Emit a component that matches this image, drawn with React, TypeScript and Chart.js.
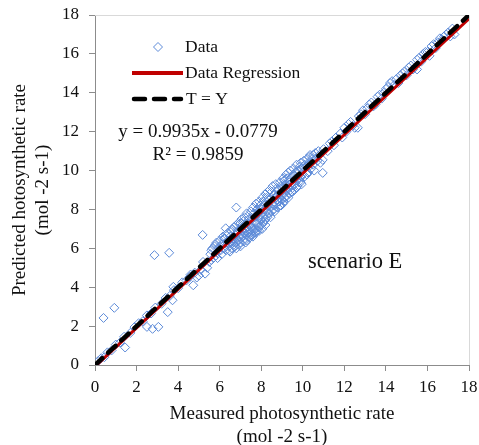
import React, { useEffect, useRef } from 'react';
import { Chart, registerables } from 'chart.js';

Chart.register(...registerables);

// ---- data (measured, predicted) ----
const lowLinePoints: [number, number][] = [
  [0.15, 0.2], [0.3, 0.35], [0.45, 0.4], [0.6, 0.65], [0.8, 0.75], [1.0, 1.05], [1.2, 1.15], [1.4, 1.45],
  [1.7, 1.65], [1.9, 1.95], [2.1, 2.15], [2.3, 2.25], [2.5, 2.55], [2.7, 2.65], [2.9, 2.95], [3.2, 3.15],
  [3.4, 3.45], [3.6, 3.55], [3.8, 3.85], [4.0, 3.95], [4.2, 4.25], [4.4, 4.35], [4.6, 4.65], [4.8, 4.75],
];
const lowOutliers: [number, number][] = [
  [0.41, 2.42], [0.93, 2.94], [1.45, 0.9], [2.5, 1.96], [2.77, 1.86], [3.05, 1.96], [3.5, 2.72], [3.73, 3.33],
  [3.77, 4.02], [2.86, 5.65], [3.57, 5.77], [4.57, 4.54], [4.73, 4.1], [4.9, 4.5], [5.0, 4.6], [5.1, 4.9],
  [5.3, 4.7], [5.2, 5.3], [5.4, 5.0], [5.18, 6.69],
];
const clusterPoints: [number, number][] = [
  [5.5, 5.3], [5.55, 5.7], [5.6, 5.9], [5.7, 5.5], [5.75, 6.1], [5.8, 5.6], [5.85, 6.3], [5.9, 5.8], [5.95, 6.0], [6.0, 6.4],
  [6.05, 5.9], [6.1, 6.2], [6.15, 6.6], [6.2, 6.0], [6.25, 6.5], [6.29, 7.03], [6.3, 5.9], [6.35, 6.3], [6.4, 6.8], [6.45, 6.1],
  [6.5, 5.83], [6.5, 6.6], [6.55, 6.3], [6.6, 7.0], [6.6, 6.0], [6.65, 6.5], [6.7, 6.2], [6.7, 7.1], [6.75, 6.7], [6.8, 8.1],
  [6.8, 6.3], [6.85, 6.9], [6.9, 6.4], [6.9, 7.3], [6.95, 6.6], [7.0, 7.0], [7.0, 6.3], [7.05, 7.5], [7.1, 6.6], [7.1, 7.2],
  [7.15, 6.8], [7.2, 7.6], [7.2, 6.5], [7.25, 7.0], [7.3, 6.7], [7.3, 7.8], [7.35, 7.3], [7.4, 6.6], [7.4, 7.5], [7.45, 6.9],
  [7.5, 7.9], [7.5, 7.1], [7.55, 6.7], [7.6, 7.4], [7.6, 8.1], [7.65, 6.9], [7.7, 7.6], [7.7, 7.0], [7.75, 8.3], [7.8, 7.3],
  [7.8, 6.9], [7.85, 7.8], [7.9, 7.1], [7.9, 8.4], [7.95, 7.5], [8.0, 8.0], [8.0, 7.2], [8.05, 8.6], [8.1, 7.6], [8.1, 7.3],
  [8.15, 8.2], [8.2, 7.5], [8.2, 8.8], [8.25, 7.9], [8.3, 8.9], [8.3, 7.6], [8.35, 8.3], [8.4, 7.8], [8.4, 9.0], [8.45, 8.1],
  [8.5, 8.6], [8.5, 7.9], [8.55, 9.2], [8.6, 8.2], [8.6, 8.0], [8.65, 8.8], [8.7, 8.3], [8.7, 9.3], [8.75, 8.5], [8.8, 8.1],
  [8.8, 9.0], [8.85, 8.4], [8.9, 9.4], [8.9, 8.6], [8.95, 8.2], [9.0, 9.1], [9.0, 8.5], [9.05, 9.6], [9.1, 8.8], [9.1, 8.4],
  [9.15, 9.3], [9.2, 8.7], [9.2, 9.8], [9.25, 9.0], [9.3, 9.9], [9.3, 8.6], [9.35, 9.4], [9.4, 9.0], [9.4, 10.0], [9.45, 9.2],
  [9.5, 9.7], [9.5, 8.9], [9.55, 10.1], [9.6, 9.3], [9.65, 9.9], [9.7, 9.5], [9.7, 10.3], [9.75, 9.2], [9.8, 10.0], [9.85, 9.6],
  [9.9, 10.4], [9.9, 9.4], [9.95, 10.1], [10.0, 9.8], [10.05, 10.5], [10.1, 9.7], [10.15, 10.2], [10.2, 10.6], [10.25, 9.9], [10.3, 10.4],
  [10.35, 10.8], [10.4, 10.1], [10.45, 10.6], [10.5, 10.3], [10.6, 10.9], [10.7, 10.5], [10.8, 10.8], [10.96, 9.88], [10.96, 10.55], [11.0, 11.1],
  [7.0, 6.1], [7.3, 6.4], [7.6, 6.6], [7.9, 6.9], [8.2, 7.2], [6.8, 6.0], [7.15, 6.35], [7.45, 6.55], [7.75, 6.8], [8.05, 7.0],
];
const clusterExtraPoints: [number, number][] = [
  [5.6, 5.4], [5.65, 6.0], [5.8, 6.2], [5.9, 5.5], [6.0, 6.1], [6.1, 5.7], [6.2, 6.5], [6.3, 6.7], [6.4, 6.4], [6.45, 5.9],
  [6.55, 6.9], [6.6, 6.4], [6.7, 6.5], [6.75, 6.1], [6.8, 7.2], [6.85, 6.5], [6.9, 6.8], [6.95, 6.2], [7.0, 7.3], [7.05, 6.7],
  [7.1, 6.9], [7.15, 7.4], [7.2, 6.8], [7.25, 6.3], [7.3, 7.1], [7.35, 6.8], [7.4, 7.7], [7.45, 7.2], [7.5, 6.8], [7.55, 7.5],
  [7.6, 7.0], [7.65, 7.8], [7.7, 6.8], [7.75, 7.3], [7.8, 8.0], [7.85, 7.1], [7.9, 7.7], [7.95, 8.2], [8.0, 7.5], [8.05, 7.8],
  [8.1, 8.4], [8.15, 7.4], [8.2, 8.0], [8.25, 8.6], [8.3, 8.2], [8.35, 7.8], [8.4, 8.5], [8.45, 7.6], [8.5, 8.9], [8.55, 8.3],
  [8.6, 8.7], [8.65, 7.9], [8.7, 8.6], [8.75, 9.1], [8.8, 8.4], [8.85, 8.8], [8.9, 8.2], [8.95, 9.2], [9.0, 8.8], [9.05, 8.3],
  [9.1, 9.5], [9.15, 8.6], [9.2, 9.2], [9.25, 9.6], [9.3, 9.1], [9.35, 8.8], [9.4, 9.6], [9.45, 8.9], [9.5, 9.4], [9.55, 9.8],
  [9.6, 9.0], [9.65, 9.6], [9.7, 9.1], [9.75, 10.0], [9.8, 9.4], [9.85, 10.2], [9.9, 9.7], [9.95, 9.3], [10.0, 10.2], [10.1, 10.3],
  [10.2, 9.8], [10.3, 10.7], [10.4, 10.4], [10.5, 10.8], [10.55, 10.0], [10.65, 10.6], [10.75, 11.0], [10.85, 10.4],
];
const highPoints: [number, number][] = [
  [11.2, 11.0], [11.3, 11.4], [11.4, 11.5], [11.5, 11.3], [11.6, 11.7], [11.8, 11.9], [11.9, 11.7], [12.0, 12.2], [12.1, 12.0],
  [12.2, 12.4], [12.3, 12.5], [12.4, 12.3], [12.5, 12.2], [12.65, 12.2], [12.7, 12.8], [12.8, 12.9], [12.9, 13.1], [13.0, 12.9],
  [13.1, 13.2], [13.2, 13.4], [13.3, 13.5], [13.4, 13.3], [13.5, 13.4], [13.6, 13.8], [13.7, 13.9], [13.8, 13.7], [13.9, 14.0],
  [14.0, 14.2], [14.1, 14.3], [14.2, 14.5], [14.3, 14.6], [14.4, 14.4], [14.5, 14.7], [14.6, 14.5], [14.7, 14.9], [14.8, 15.0],
  [14.9, 15.1], [15.0, 14.9], [15.1, 15.3], [15.2, 15.4], [15.3, 15.2], [15.5, 15.2], [15.5, 15.7], [15.6, 15.8], [15.7, 15.6],
  [15.8, 16.0], [15.9, 16.1], [16.0, 16.1], [16.1, 15.9], [16.2, 16.4], [16.3, 16.5], [16.4, 16.3], [16.5, 16.6], [16.6, 16.8],
  [16.7, 16.7], [16.8, 16.9], [16.9, 17.0], [17.0, 17.1], [17.1, 16.9], [17.2, 17.3], [17.3, 17.0],
];

const regressionCoef = { slope: 0.9935, intercept: -0.0779 };
const lineRangeX = [0, 18];
const axisMin = 0;
const axisMax = 18;
const axisStep = 2;

const legendLabels = ['Data', 'Data Regression', 'T = Y'];
const equationLines = ['y = 0.9935x - 0.0779', 'R\u00B2 = 0.9859'];
const scenarioLabel = 'scenario E';
const xTitleLines = ['Measured photosynthetic rate', '(mol -2 s-1)'];
const yTitleLines = ['Predicted hotosynthetic rate', '(mol -2 s-1)'];

const SERIF = '"Liberation Serif", "Times New Roman", serif';
const POINT_COLOR = 'rgb(92,138,216)';
const RED = '#c00000';

function drawDiamond(ctx: CanvasRenderingContext2D, x: number, y: number, r: number) {
  ctx.beginPath();
  ctx.moveTo(x, y - r);
  ctx.lineTo(x + r, y);
  ctx.lineTo(x, y + r);
  ctx.lineTo(x - r, y);
  ctx.closePath();
  ctx.stroke();
}

const framePlugin = {
  id: 'frame',
  beforeDatasetsDraw(chart: any) {
    const { ctx, chartArea: a } = chart;
    ctx.save();
    ctx.strokeStyle = '#d9d9d9';
    ctx.lineWidth = 1;
    ctx.beginPath();
    ctx.moveTo(a.left, a.top + 0.5);
    ctx.lineTo(a.right + 0.5, a.top + 0.5);
    ctx.lineTo(a.right + 0.5, a.bottom);
    ctx.stroke();
    ctx.restore();
  },
};

const overlayPlugin = {
  id: 'overlay',
  afterDraw(chart: any) {
    const { ctx, chartArea: a } = chart;
    ctx.save();
    ctx.fillStyle = '#111';
    ctx.textBaseline = 'middle';
    ctx.textAlign = 'left';
    ctx.font = `17.5px ${SERIF}`;
    const lx0 = a.left + 37;
    const lx1 = a.left + 88;
    const tx = a.left + 90;
    const rows = [a.top + 32, a.top + 58, a.top + 84];
    // Data marker
    ctx.strokeStyle = POINT_COLOR;
    ctx.lineWidth = 1;
    drawDiamond(ctx, (lx0 + lx1) / 2 + 0.5, rows[0], 4.5);
    ctx.fillText(legendLabels[0], tx, rows[0]);
    // Regression
    ctx.strokeStyle = RED;
    ctx.lineWidth = 4;
    ctx.lineCap = 'butt';
    ctx.beginPath();
    ctx.moveTo(lx0, rows[1]);
    ctx.lineTo(lx1, rows[1]);
    ctx.stroke();
    ctx.fillText(legendLabels[1], tx, rows[1]);
    // T = Y
    ctx.strokeStyle = '#000';
    ctx.lineWidth = 4.5;
    ctx.lineCap = 'round';
    ctx.setLineDash([11, 9]);
    ctx.beginPath();
    ctx.moveTo(lx0 + 2, rows[2]);
    ctx.lineTo(lx1 - 2, rows[2]);
    ctx.stroke();
    ctx.setLineDash([]);
    ctx.fillText(legendLabels[2], tx + 1, rows[2]);

    // equation
    ctx.textAlign = 'center';
    ctx.font = `19px ${SERIF}`;
    ctx.fillText(equationLines[0], a.left + 103, a.top + 117);
    ctx.fillText(equationLines[1], a.left + 103, a.top + 140);

    // scenario
    ctx.textAlign = 'left';
    ctx.textBaseline = 'alphabetic';
    ctx.font = `22.5px ${SERIF}`;
    ctx.fillText(scenarioLabel, a.left + 213, a.top + 253);
    ctx.restore();
  },
};

export default function App() {
  const ref = useRef<HTMLCanvasElement | null>(null);

  useEffect(() => {
    if (!ref.current) return;
    const scatter = [...lowLinePoints, ...lowOutliers, ...clusterPoints, ...clusterExtraPoints, ...highPoints].map(([x, y]) => ({ x, y }));
    const regression = lineRangeX.map((x) => ({ x, y: regressionCoef.slope * x + regressionCoef.intercept }));
    const identity = lineRangeX.map((x) => ({ x, y: x }));

    const tickFont = { family: SERIF, size: 17 };
    const titleFont = { family: SERIF, size: 19, lineHeight: 1.2 };

    const chart = new Chart(ref.current, {
      type: 'scatter',
      data: {
        datasets: [
          {
            label: legendLabels[0],
            data: scatter,
            pointStyle: 'rectRot',
            pointRadius: 4.5,
            pointBorderWidth: 1,
            pointBorderColor: POINT_COLOR,
            pointBackgroundColor: 'rgba(0,0,0,0)',
            showLine: false,
            order: 3,
          } as any,
          {
            type: 'line',
            label: legendLabels[1],
            data: regression,
            borderColor: RED,
            borderWidth: 3,
            pointRadius: 0,
            fill: false,
            order: 2,
          } as any,
          {
            type: 'line',
            label: legendLabels[2],
            data: identity,
            borderColor: '#000',
            borderWidth: 4.5,
            borderDash: [10, 8],
            borderCapStyle: 'round',
            pointRadius: 0,
            fill: false,
            order: 1,
          } as any,
        ],
      },
      options: {
        animation: false,
        responsive: false,
        maintainAspectRatio: false,
        layout: { padding: { top: 15, right: 10, left: 0, bottom: 0 } },
        plugins: { legend: { display: false }, tooltip: { enabled: false } },
        scales: {
          x: {
            type: 'linear',
            min: axisMin,
            max: axisMax,
            ticks: { stepSize: axisStep, font: tickFont, color: '#111', padding: 6, maxRotation: 0 },
            grid: { display: true, drawOnChartArea: false, drawTicks: true, tickLength: 6, color: '#8c8c8c' },
            border: { display: true, color: '#8c8c8c', width: 1 },
            title: { display: true, text: xTitleLines, font: titleFont, color: '#111', padding: { top: 0, bottom: -3 } },
            afterFit: (s: any) => { s.height = 80; s.paddingLeft = 0; s.paddingRight = 0; },
          },
          y: {
            type: 'linear',
            min: axisMin,
            max: axisMax,
            ticks: { stepSize: axisStep, font: tickFont, color: '#111', padding: 10 },
            grid: { display: true, drawOnChartArea: false, drawTicks: true, tickLength: 6, color: '#8c8c8c' },
            border: { display: true, color: '#8c8c8c', width: 1 },
            title: { display: true, text: yTitleLines, font: titleFont, color: '#111', padding: { top: 9, bottom: 0 } },
            afterFit: (s: any) => { s.width = 95; s.paddingTop = 0; s.paddingBottom = 0; },
          },
        },
      },
      plugins: [framePlugin, overlayPlugin],
    });
    return () => chart.destroy();
  }, []);

  return (
    <div style={{ position: 'fixed', left: 0, top: 0, width: 479, height: 445, background: '#fff' }}>
      <canvas ref={ref} width={479} height={445} style={{ display: 'block', width: 479, height: 445 }} />
    </div>
  );
}
